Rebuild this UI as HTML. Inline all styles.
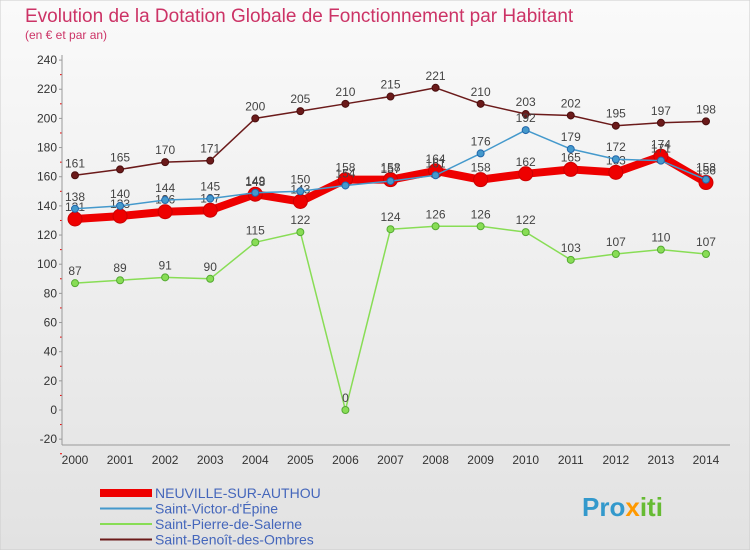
<!DOCTYPE html>
<html><head><meta charset="utf-8"><style>
body{margin:0;width:750px;height:550px;overflow:hidden;font-family:"Liberation Sans",sans-serif}
</style></head><body>
<svg width="750" height="550" xmlns="http://www.w3.org/2000/svg">
<defs><linearGradient id="bg" x1="0" y1="0" x2="0" y2="1"><stop offset="0" stop-color="#fafafa"/><stop offset="1" stop-color="#e2e2e2"/></linearGradient></defs>
<rect x="0" y="0" width="750" height="550" fill="url(#bg)" stroke="#ccc"/>
<text x="25" y="22" font-size="19" fill="#cc3366">Evolution de la Dotation Globale de Fonctionnement par Habitant</text>
<text x="25" y="39" font-size="12" fill="#cc3366">(en € et par an)</text>
<g id="axes"></g><g id="series"></g><g id="legend"></g>
<text x="582" y="516" font-size="26" font-weight="bold" fill="#3399cc">Pro<tspan fill="#ff9900">x</tspan><tspan fill="#66bb33">iti</tspan></text>
</svg>
<script>
const years=[2000,2001,2002,2003,2004,2005,2006,2007,2008,2009,2010,2011,2012,2013,2014];
const yTicks=[-20,0,20,40,60,80,100,120,140,160,180,200,220,240];
const neuville=[131,133,136,137,148,143,158,158,164,158,162,165,163,174,156];
const victor=[138,140,144,145,149,150,154,157,161,176,192,179,172,171,158];
const pierre=[87,89,91,90,115,122,0,124,126,126,122,103,107,110,107];
const benoit=[161,165,170,171,200,205,210,215,221,210,203,202,195,197,198];
const NS="http://www.w3.org/2000/svg";
const xS=i=>75+i*45.07, yS=v=>410-v*1.458;
function mk(t,a,p){const e=document.createElementNS(NS,t);for(const k in a)e.setAttribute(k,a[k]);p.appendChild(e);return e;}
const ax=document.getElementById('axes');
for(const t of yTicks){
 const g=mk('line',{x1:59,x2:62,y1:yS(t),y2:yS(t),stroke:'#999','stroke-width':1},ax);
 
 
 const m=mk('line',{x1:60,x2:62,y1:yS(t)+14.58,y2:yS(t)+14.58,stroke:'#ee0000','stroke-width':1},ax);
 
 
 const l=mk('text',{x:57,y:yS(t)+4,'font-size':12,'text-anchor':'end',fill:'#333'},ax);l.textContent=t;
 
 
}
const yl=mk('line',{x1:62,x2:62,y1:55,y2:445,stroke:'#999'},ax);


const xl=mk('line',{x1:62,x2:730,y1:445,y2:445,stroke:'#999'},ax);


years.forEach((y,i)=>{const t=mk('text',{x:xS(i),y:464,'font-size':12,'text-anchor':'middle',fill:'#333'},ax);t.textContent=y;
 
 });
const sg=document.getElementById('series');
function series(vals,color,w,r,name,dark){
 const g=mk('g',{},sg);
 
 
 mk('polyline',{points:vals.map((v,i)=>xS(i)+','+yS(v)).join(' '),fill:'none',stroke:color,'stroke-width':w,'stroke-linejoin':'round'},g);
 vals.forEach((v,i)=>{const c=mk('circle',{cx:xS(i),cy:yS(v),r:r,fill:color,stroke:dark,'stroke-width':1},g);
  
  
  const t=mk('text',{x:xS(i),y:yS(v)-8,'font-size':12,'text-anchor':'middle',fill:'#444'},g);t.textContent=v;
  
  });
}
series(benoit,'#6b1a1a',1.5,3.5,'series-saint-benoit','#4a0f0f');
series(pierre,'#88dd55',1.5,3.5,'series-saint-pierre','#55aa33');
series(neuville,'#ee0000',8,7,'series-neuville','#cc0000');
series(victor,'#4499cc',1.5,3.5,'series-saint-victor','#2266aa');
const lg=document.getElementById('legend');
const items=[['NEUVILLE-SUR-AUTHOU','#ee0000',8],["Saint-Victor-d'Épine",'#4499cc',2],['Saint-Pierre-de-Salerne','#88dd55',2],['Saint-Benoît-des-Ombres','#6b1a1a',2]];
items.forEach((it,i)=>{const y=493+i*15.5;
 const g=mk('g',{},lg);
 
 
 mk('line',{x1:100,x2:152,y1:y,y2:y,stroke:it[1],'stroke-width':it[2]},g);
 const t=mk('text',{x:155,y:y+5,'font-size':14,fill:'#4466bb'},g);t.textContent=it[0];});
</script>
</body></html>
